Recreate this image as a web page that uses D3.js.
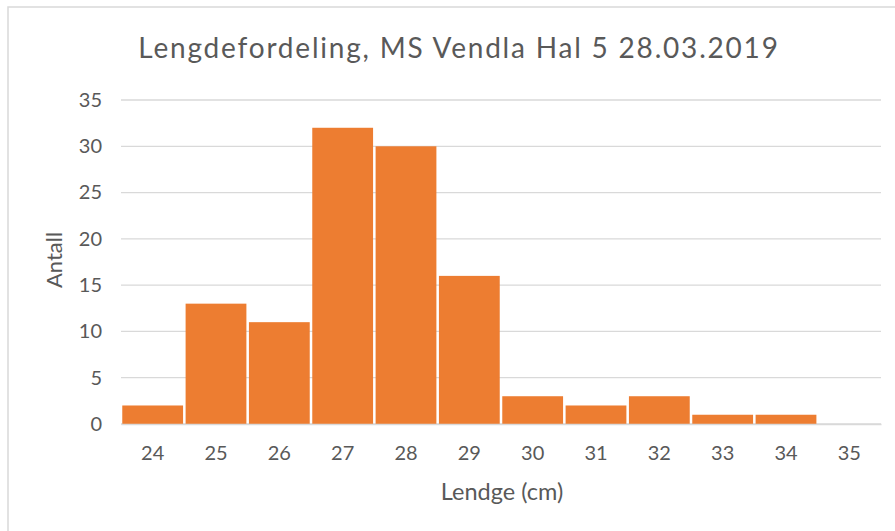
<!DOCTYPE html>
<html>
<head>
<meta charset="utf-8">
<script src="https://cdn.jsdelivr.net/npm/d3@7"></script>
<style>
  body { margin: 0; background: #fff; }
  text { font-family: Lato, "Open Sans", sans-serif; fill: #595959; }
</style>
</head>
<body>
<svg id="svg-cart"></svg>
<script>
const lengder = ['24', '25', '26', '27', '28', '29', '30', '31', '32', '33', '34', '35'];
const antall = [2, 13, 11, 32, 30, 16, 3, 2, 3, 1, 1, 0];
const yTicks = [0, 5, 10, 15, 20, 25, 30, 35];

const w = 895;
const h = 531;
const plotLeft = 121, plotRight = 881, plotTop = 100, plotBottom = 424;

const svg = d3.select('#svg-cart')
  .attr('width', w)
  .attr('height', h);

// ramme rundt diagrammet
svg.append('rect')
  .attr('x', 8).attr('y', 7)
  .attr('width', w).attr('height', h)
  .style('fill', 'none')
  .style('stroke', '#d9d9d9')
  .style('stroke-width', 1.5);

const escalaX = d3.scaleBand()
  .domain(lengder)
  .range([plotLeft, plotRight])
  .paddingInner(0.04)
  .paddingOuter(0.02);

const escalaY = d3.scaleLinear()
  .domain([0, 35])
  .range([plotBottom, plotTop]);

// rutenett
svg.append('g')
  .selectAll('line')
  .data(yTicks)
  .enter()
  .append('line')
  .attr('x1', plotLeft).attr('x2', plotRight)
  .attr('y1', d => escalaY(d)).attr('y2', d => escalaY(d))
  .style('stroke', '#d9d9d9')
  .style('stroke-width', 1.3);

svg.append('g')
  .selectAll('rect')
  .data(antall)
  .enter()
  .append('rect')
  .attr('x', (d, i) => escalaX(lengder[i]))
  .attr('width', escalaX.bandwidth())
  .attr('y', d => escalaY(d))
  .attr('height', d => escalaY(0) - escalaY(d))
  .style('fill', '#ed7d31');

const ejeY = d3.axisLeft(escalaY).tickValues(yTicks).tickSize(0).tickPadding(19);
const gY = svg.append('g')
  .attr('transform', 'translate(' + plotLeft + ', 0)')
  .call(ejeY);
gY.select('.domain').remove();
gY.selectAll('text').style('font-size', '20px').style('fill', '#595959');

const ejeX = d3.axisBottom(escalaX).tickSize(0).tickPadding(22);
const gX = svg.append('g')
  .attr('transform', 'translate(0, ' + plotBottom + ')')
  .call(ejeX);
gX.select('.domain').style('stroke', '#d9d9d9').style('stroke-width', 1.5);
gX.selectAll('text').style('font-size', '20px').style('fill', '#595959');

svg.append('text')
  .attr('x', 459).attr('y', 58)
  .attr('text-anchor', 'middle')
  .style('font-size', '28px')
  .style('letter-spacing', '1.8px')
  .text('Lengdefordeling, MS Vendla Hal 5 28.03.2019');

svg.append('text')
  .attr('transform', 'translate(62, 260) rotate(-90)')
  .attr('text-anchor', 'middle')
  .style('font-size', '22px')
  .text('Antall');

svg.append('text')
  .attr('x', 502).attr('y', 500)
  .attr('text-anchor', 'middle')
  .style('font-size', '23.5px')
  .text('Lendge (cm)');
</script>
</body>
</html>
